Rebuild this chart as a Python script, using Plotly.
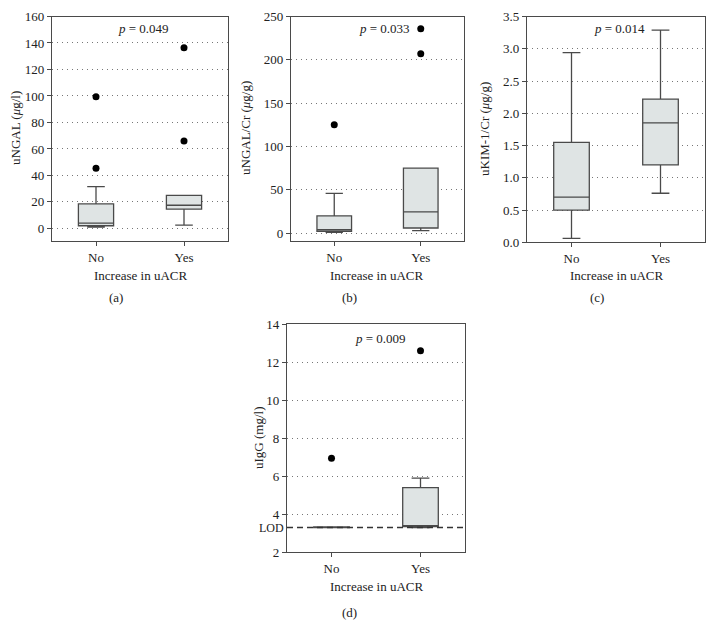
import plotly.graph_objects as go

OFF = 8  # default page body margin
W, H = 714 - OFF, 638 - OFF
FONT = "Liberation Serif"
categories = ["No", "Yes"]

# Panel (a) uNGAL
a_low = [1, 2.5]; a_q1 = [2, 14.5]; a_med = [4, 17.5]; a_q3 = [18.5, 25]; a_up = [31.5, 25]
a_out_x = ["No", "No", "Yes", "Yes"]; a_out_y = [45.5, 99.5, 66, 136.5]
# Panel (b) uNGAL/Cr
b_low = [1, 3]; b_q1 = [2, 6]; b_med = [4, 24.5]; b_q3 = [20, 75]; b_up = [46, 75]
b_out_x = ["No", "Yes", "Yes"]; b_out_y = [125, 207, 236]
# Panel (c) uKIM-1/Cr
c_low = [0.06, 0.76]; c_q1 = [0.5, 1.2]; c_med = [0.7, 1.85]; c_q3 = [1.55, 2.22]; c_up = [2.94, 3.29]
# Panel (d) uIgG
d_low = [3.3, 3.3]; d_q1 = [3.3, 3.35]; d_med = [3.32, 3.4]; d_q3 = [3.33, 5.4]; d_up = [3.33, 5.9]
d_out_x = ["No", "Yes"]; d_out_y = [6.95, 12.6]
LOD = 3.3

p_texts = ["0.049", "0.033", "0.014", "0.009"]

def px(x): return (x - OFF) / W
def py(y): return 1 - (y - OFF) / H

fig = go.Figure()
BOX_FILL = "#dfe4e4"
LINE = "#4a4a4a"

panels = [
    dict(ax="", low=a_low, q1=a_q1, med=a_med, q3=a_q3, up=a_up, ox=a_out_x, oy=a_out_y),
    dict(ax="2", low=b_low, q1=b_q1, med=b_med, q3=b_q3, up=b_up, ox=b_out_x, oy=b_out_y),
    dict(ax="3", low=c_low, q1=c_q1, med=c_med, q3=c_q3, up=c_up, ox=[], oy=[]),
    dict(ax="4", low=d_low, q1=d_q1, med=d_med, q3=d_q3, up=d_up, ox=d_out_x, oy=d_out_y),
]
for p in panels:
    fig.add_trace(go.Box(x=categories, q1=p["q1"], median=p["med"], q3=p["q3"],
                         lowerfence=p["low"], upperfence=p["up"], boxpoints=False,
                         width=0.4, whiskerwidth=0.5, fillcolor=BOX_FILL,
                         line=dict(color=LINE, width=1.3),
                         xaxis="x" + p["ax"], yaxis="y" + p["ax"], showlegend=False))
    if p["ox"]:
        fig.add_trace(go.Scatter(x=p["ox"], y=p["oy"], mode="markers",
                                 marker=dict(color="black", size=7),
                                 xaxis="x" + p["ax"], yaxis="y" + p["ax"], showlegend=False))

tickfont = dict(family=FONT, size=13, color="#222")
common_x = dict(range=[-0.5, 1.5], showline=True, mirror=True, linecolor=LINE, linewidth=1.2,
                ticks="outside", ticklen=4, tickcolor=LINE, tickfont=tickfont, showgrid=False,
                type="category", fixedrange=True, automargin=False)
common_y = dict(showline=True, mirror=True, linecolor=LINE, linewidth=1.2, ticks="outside",
                ticklen=4, tickcolor=LINE, tickfont=tickfont, showgrid=True, gridcolor="#777",
                gridwidth=1, griddash="1px,4px", zeroline=False, automargin=False,
                ticklabeloverflow="allow")

TOP_Y = 16.5
top = [py(241), py(TOP_Y)]
fig.update_layout(
    width=W, height=H, margin=dict(l=0, r=0, t=0, b=0, pad=0), autosize=False,
    paper_bgcolor="white", plot_bgcolor="white",
    font=dict(family=FONT, size=13, color="#222"),
    xaxis=dict(domain=[px(52), px(228)], anchor="y", **common_x),
    yaxis=dict(domain=top, anchor="x", range=[-9.5, 160], tickvals=list(range(0, 161, 20)), **common_y),
    xaxis2=dict(domain=[px(291), px(464)], anchor="y2", **common_x),
    yaxis2=dict(domain=top, anchor="x2", range=[-9, 250], tickvals=list(range(0, 251, 50)), **common_y),
    xaxis3=dict(domain=[px(527), px(705)], anchor="y3", **common_x),
    yaxis3=dict(domain=[py(242.3), py(TOP_Y)], anchor="x3", range=[0, 3.5],
                tickvals=[0, 0.5, 1, 1.5, 2, 2.5, 3, 3.5], tickformat=".1f", **common_y),
    xaxis4=dict(domain=[px(287), px(465)], anchor="y4", **common_x),
    yaxis4=dict(domain=[py(552.3), py(324)], anchor="x4", range=[2, 14],
                tickvals=[2, 4, 6, 8, 10, 12, 14], **common_y),
)

fig.add_shape(type="line", xref="x4 domain", yref="y4", x0=0, x1=1, y0=LOD, y1=LOD,
              line=dict(color="#333", width=1.5, dash="6px,4px"))

def A(text, x, y, **kw):
    d = dict(text=text, x=px(x), y=py(y), showarrow=False, xref="paper", yref="paper",
             xanchor="center", yanchor="middle", font=dict(family=FONT, size=13, color="#222"))
    d.update(kw)
    return d

ann = []
ytitles = [("uNGAL (<i>μ</i>g/l)", 15, 128), ("uNGAL/Cr (<i>μ</i>g/g)", 245, 128),
           ("uKIM-1/Cr (<i>μ</i>g/g)", 485, 129), ("uIgG (mg/l)", 258, 438)]
for t, x, y in ytitles:
    ann.append(A(t, x, y, textangle=-90))
xt = [(140, 275), (377, 275), (616, 275), (376, 586)]
for x, y in xt:
    ann.append(A("Increase in uACR", x, y))
labels = [("(a)", 116, 298), ("(b)", 349, 298), ("(c)", 597, 298), ("(d)", 349, 612)]
for t, x, y in labels:
    ann.append(A(t, x, y))
pp = [(143, 29), (384, 29), (619, 29), (380, 338)]
for t, (x, y) in zip(p_texts, pp):
    ann.append(A("<i>p</i> = " + t, x, y))
# LOD label next to the (d) y axis, at the LOD level
ann.append(dict(text="LOD", x=0, xref="x4 domain", y=LOD, yref="y4", xanchor="right",
                yanchor="middle", xshift=-1, showarrow=False,
                font=dict(family=FONT, size=12, color="#222")))
fig.update_layout(annotations=ann)

fig.write_html("out.html")
